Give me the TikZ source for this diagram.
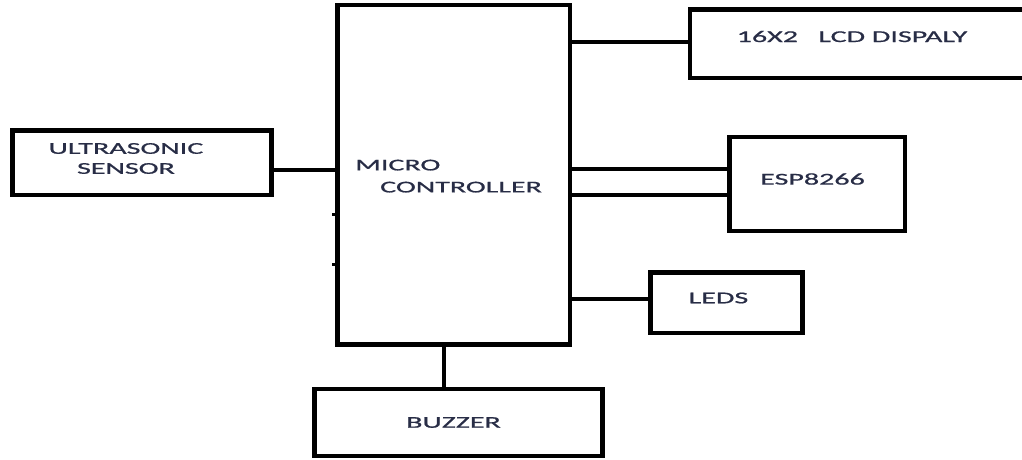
\documentclass[tikz,border=0pt]{standalone}
\usepackage{fontspec}
\newfontfamily\blockfont[FakeStretch=1.82, FakeBold=0.9]{Carlito}
\usetikzlibrary{positioning, calc}
\definecolor{labelink}{RGB}{40,45,70}

\begin{document}
\begin{tikzpicture}[
    x=1pt, y=-1pt,
    block/.style 2 args={draw, rectangle, line width=4.5pt, minimum width=#1, minimum height=#2, inner sep=0pt},
    wire/.style={line width=4pt},
    tag/.style={inner sep=0pt, text=labelink, font=\blockfont\fontsize{16.5}{20}\selectfont}
  ]
    \clip (0,0) rectangle (1022,459);

    % Blocks
    \node[block={232.5}{339.5}] (mc) at (453.75,174.75) {};
    \node[block={259}{64.5}] (sensor) at (142,162.75) {};
    \node[block={350}{68.5}] (lcd) at (865,43.75) {};
    \node[block={175.5}{94}] (esp) at (817.25,184) {};
    \node[block={152}{60.5}] (leds) at (726.5,302.75) {};
    \node[block={288}{67}] (buzzer) at (458.5,422.5) {};

    % Labels
    \node[tag, align=center] (sensortxt) at (126,158.5) {ULTRASONIC\\SENSOR};
    \node[tag, align=left, anchor=north west] (mctxt) at (355,159.5) {MICRO\\[2pt]\hspace*{25pt}CONTROLLER};
    \node[tag] (lcdtxt) at (852,36.5) {16X2~~~LCD DISPALY};
    \node[tag] (esptxt) at (812.5,179) {ESP8266};
    \node[tag] (ledstxt) at (718.5,298) {LEDS};
    \node[tag] (buzzertxt) at (453.5,422.5) {BUZZER};

    % Connections
    \draw[wire] (sensor.east |- 0,169.5) -- (mc.west |- 0,169.5);
    \draw[wire] (mc.east |- 0,42) -- (lcd.west |- 0,42);
    \draw[wire] (mc.east |- 0,168.5) -- (esp.west |- 0,168.5);
    \draw[wire] (mc.east |- 0,194.5) -- (esp.west |- 0,194.5);
    \draw[wire] (mc.east |- 0,299) -- (leds.west |- 0,299);
    \draw[wire] (mc.south -| 443.5,0) -- (buzzer.north -| 443.5,0);

    % stubs on the left side
    \draw[wire, line width=3pt] (mc.west |- 0,214) -- ++(-3,0);
    \draw[wire, line width=3pt] (mc.west |- 0,264) -- ++(-3,0);

  \end{tikzpicture}
\end{document}
